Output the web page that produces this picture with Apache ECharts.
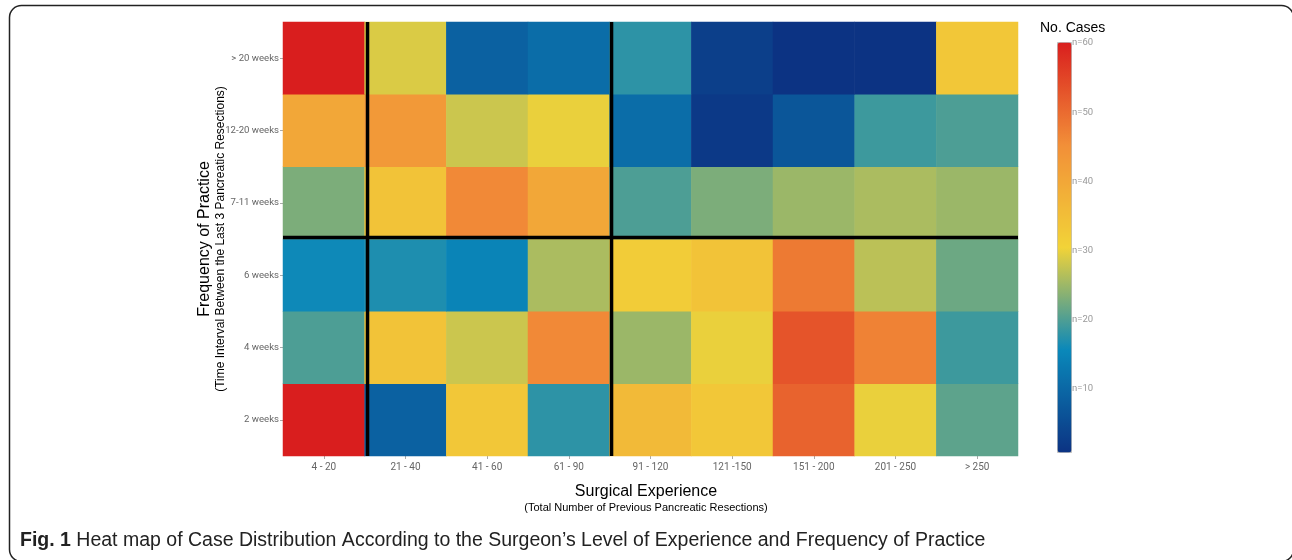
<!DOCTYPE html>
<html>
<head>
<meta charset="utf-8">
<script src="https://cdn.jsdelivr.net/npm/echarts@6/dist/echarts.min.js"></script>
<style>html,body{margin:0;padding:0;background:#fff;}#c{width:1292px;height:560px;}</style>
</head>
<body>
<div id="c"></div>
<script>
const xCats = ['4 - 20','21 - 40','41 - 60','61 - 90','91 - 120','121 -150','151 - 200','201 - 250','> 250'];
const yCats = ['2 weeks','4 weeks','6 weeks','7-11 weeks','12-20 weeks','> 20 weeks'];
// values per row (x categories left to right)
const row2w    = [60, 9, 33, 18, 36, 33, 51, 30, 21];
const row4w    = [20, 34, 28, 46, 25, 30, 53, 47, 19];
const row6w    = [16, 17, 15, 26, 32, 34, 48, 27, 22];
const row7_11w = [23, 34, 46, 40, 20, 23, 25, 26, 25];
const row12_20w= [40, 43, 28, 30, 11, 2, 7, 19, 20];
const rowGt20w = [60, 29, 9, 11, 18, 3, 1, 1, 33];
const rows = [row2w, row4w, row6w, row7_11w, row12_20w, rowGt20w];
const colorTicks = [10, 20, 30, 40, 50, 60];
// divider positions, in category-boundary units
const xDividers = [1.035, 4.023];
const yDividers = [3.02];

const heatData = [];
rows.forEach((r, yi) => r.forEach((v, xi) => heatData.push([xi, yi, v])));

const lineSeries = [];
xDividers.forEach(d => lineSeries.push({
  type: 'line', xAxisIndex: 1, yAxisIndex: 1, data: [[d, 0], [d, yCats.length]],
  symbol: 'none', lineStyle: {color: '#000', width: 3.5}, z: 10, silent: true
}));
yDividers.forEach(d => lineSeries.push({
  type: 'line', xAxisIndex: 1, yAxisIndex: 1, data: [[0, d], [xCats.length, d]],
  symbol: 'none', lineStyle: {color: '#000', width: 3.5}, z: 10, silent: true
}));

const chart = echarts.init(document.getElementById('c'), null, {renderer: 'canvas'});
const lblFont = 'Roboto, "Liberation Sans", sans-serif';
chart.setOption({
  animation: false,
  grid: [
    {left: 283, right: 274, top: 22, bottom: 104},
    {left: 1057, top: 43, width: 14, height: 415}
  ],
  xAxis: [
    {type: 'category', data: xCats, gridIndex: 0,
     axisLine: {show: false}, splitLine: {show: false},
     axisTick: {show: true, alignWithLabel: true, length: 3, lineStyle: {color: '#aaa'}},
     axisLabel: {color: '#666', fontSize: 10, fontFamily: lblFont, margin: 6}},
    {type: 'value', gridIndex: 0, min: 0, max: xCats.length, show: false},
    {type: 'value', gridIndex: 1, show: false}
  ],
  yAxis: [
    {type: 'category', data: yCats, gridIndex: 0,
     axisLine: {show: false}, splitLine: {show: false},
     axisTick: {show: true, alignWithLabel: true, length: 3, lineStyle: {color: '#aaa'}},
     axisLabel: {color: '#666', fontSize: 9.6, fontFamily: lblFont, margin: 4}},
    {type: 'value', gridIndex: 0, min: 0, max: yCats.length, show: false},
    {type: 'value', gridIndex: 1, min: 0, max: 60, interval: 10, position: 'right',
     axisLine: {show: false}, axisTick: {show: false}, splitLine: {show: false},
     axisLabel: {color: '#999', fontSize: 9.5, fontFamily: lblFont, margin: 1,
       formatter: v => colorTicks.indexOf(v) >= 0 ? 'n=' + v : ''}}
  ],
  visualMap: {
    type: 'continuous', min: 1, max: 60, seriesIndex: 0,
    left: 1057, top: 42, itemWidth: 14, itemHeight: 410,
    calculable: false, padding: 0, borderColor: '#bbb', borderWidth: 1,
    inRange: {color: ['#0c3383', '#0a88ba', '#f2d338', '#f28f38', '#d91e1e']}
  },
  series: [
    {type: 'heatmap', data: heatData, xAxisIndex: 0, yAxisIndex: 0,
     itemStyle: {borderWidth: 0}, label: {show: false}},
    ...lineSeries
  ],
  graphic: [
    {type: 'rect', shape: {x: 9.5, y: 5.5, width: 1284, height: 556, r: 12},
     style: {fill: 'none', stroke: '#222', lineWidth: 1.5}, silent: true},
    {type: 'text', x: 1040, y: 28,
     style: {text: 'No. Cases', fill: '#000', font: '14px "Liberation Sans", Arial, sans-serif', textVerticalAlign: 'middle'}},
    {type: 'text', x: 205, y: 239, rotation: Math.PI / 2,
     style: {text: 'Frequency of Practice', fill: '#000', font: '16px "Liberation Sans", Arial, sans-serif', textAlign: 'center', textVerticalAlign: 'middle'}},
    {type: 'text', x: 221, y: 239, rotation: Math.PI / 2,
     style: {text: '(Time Interval Between the Last 3 Pancreatic Resections)', fill: '#000', font: '12px "Liberation Sans", Arial, sans-serif', textAlign: 'center', textVerticalAlign: 'middle'}},
    {type: 'text', x: 646, y: 492,
     style: {text: 'Surgical Experience', fill: '#000', font: '16px "Liberation Sans", Arial, sans-serif', textAlign: 'center', textVerticalAlign: 'middle'}},
    {type: 'text', x: 646, y: 508,
     style: {text: '(Total Number of Previous Pancreatic Resections)', fill: '#000', font: '11px "Liberation Sans", Arial, sans-serif', textAlign: 'center', textVerticalAlign: 'middle'}},
    {type: 'text', x: 20, y: 541,
     style: {text: '{b|Fig. 1} Heat map of Case Distribution According to the Surgeon\u2019s Level of Experience and Frequency of Practice',
       fill: '#222', font: '19.5px "Liberation Sans", sans-serif', textVerticalAlign: 'middle',
       rich: {b: {fontWeight: 'bold', fontSize: 19.5, fontFamily: '"Liberation Sans", sans-serif', fill: '#222'}}}}
  ]
});
</script>
</body>
</html>
